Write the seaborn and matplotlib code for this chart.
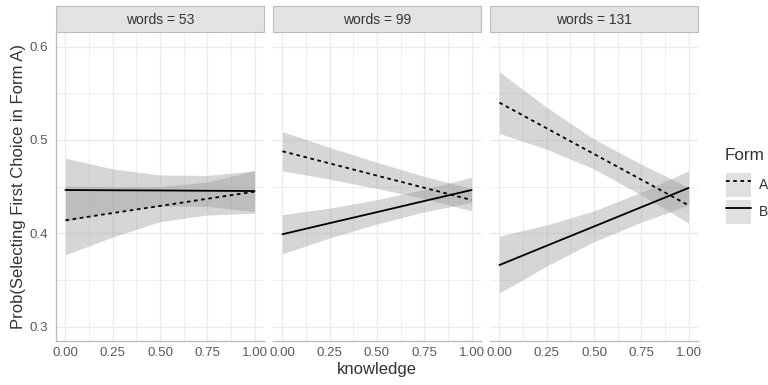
import numpy as np
import pandas as pd
import matplotlib
matplotlib.use("Agg")
import matplotlib.pyplot as plt
from matplotlib.patches import Patch, Rectangle
from matplotlib.lines import Line2D
from matplotlib.legend_handler import HandlerTuple
import seaborn as sns

# ---------------- data ----------------
panels = ["words = 53", "words = 99", "words = 131"]
forms = ["A", "B"]
knowledge = [0.0, 0.25, 0.5, 0.75, 1.0]

# words = 53
p53_A_fit = [0.414, 0.4217, 0.4293, 0.437, 0.4446]
p53_A_lo = [0.377, 0.396, 0.4125, 0.4196, 0.4214]
p53_A_hi = [0.4507, 0.450, 0.450, 0.455, 0.467]
p53_B_fit = [0.4464, 0.4461, 0.4459, 0.4456, 0.4453]
p53_B_lo = [0.4125, 0.423, 0.429, 0.429, 0.4232]
p53_B_hi = [0.4804, 0.469, 0.4625, 0.462, 0.467]

# words = 99
p99_A_fit = [0.4879, 0.4749, 0.4618, 0.4488, 0.4357]
p99_A_lo = [0.467, 0.458, 0.448, 0.437, 0.424]
p99_A_hi = [0.509, 0.492, 0.476, 0.461, 0.448]
p99_B_fit = [0.399, 0.4109, 0.4227, 0.4346, 0.4464]
p99_B_lo = [0.378, 0.395, 0.410, 0.423, 0.433]
p99_B_hi = [0.420, 0.427, 0.436, 0.447, 0.460]

# words = 131
p131_A_fit = [0.540, 0.5125, 0.485, 0.4575, 0.430]
p131_A_lo = [0.507, 0.490, 0.469, 0.441, 0.411]
p131_A_hi = [0.573, 0.535, 0.501, 0.474, 0.449]
p131_B_fit = [0.366, 0.3867, 0.4073, 0.428, 0.4486]
p131_B_lo = [0.336, 0.365, 0.391, 0.412, 0.430]
p131_B_hi = [0.397, 0.409, 0.424, 0.444, 0.467]

x_ticks = [0.0, 0.25, 0.5, 0.75, 1.0]
x_ticklabels = ["0.00", "0.25", "0.50", "0.75", "1.00"]
y_ticks = [0.3, 0.4, 0.5, 0.6]
y_ticklabels = ["0.3", "0.4", "0.5", "0.6"]

series = {
    ("words = 53", "A"): (p53_A_fit, p53_A_lo, p53_A_hi),
    ("words = 53", "B"): (p53_B_fit, p53_B_lo, p53_B_hi),
    ("words = 99", "A"): (p99_A_fit, p99_A_lo, p99_A_hi),
    ("words = 99", "B"): (p99_B_fit, p99_B_lo, p99_B_hi),
    ("words = 131", "A"): (p131_A_fit, p131_A_lo, p131_A_hi),
    ("words = 131", "B"): (p131_B_fit, p131_B_lo, p131_B_hi),
}
rows = []
for (pan, f), (fit, lo, hi) in series.items():
    for k, v, l, h in zip(knowledge, fit, lo, hi):
        rows.append(dict(panel=pan, Form=f, knowledge=k, prob=v, lower=l, upper=h))
df = pd.DataFrame(rows)

# ---------------- styling ----------------
sns.set_theme(style="white")
plt.rcParams["font.family"] = ["Liberation Sans", "DejaVu Sans"]

W, H = 768, 385
fig = plt.figure(figsize=(W / 100, H / 100), dpi=100)

grid_col = "#EBEBEB"
band_col = "#999999"
axis_col = "#BDBDBD"
tick_col = "#5A5A5A"
dash = (2.0, 2.0)
lw = 1.3

lefts = [56, 273, 490]
pw = 208
top_px, bot_px = 32, 341
strip_top = 6

for i, pan in enumerate(panels):
    l = lefts[i]
    ax = fig.add_axes([l / W, 1 - bot_px / H, pw / W, (bot_px - top_px) / H])
    sub = df[df["panel"] == pan]
    for f in forms:
        s = sub[sub["Form"] == f]
        ax.fill_between(s["knowledge"], s["lower"], s["upper"],
                        color=band_col, alpha=0.4, linewidth=0, zorder=2)
    sns.lineplot(data=sub, x="knowledge", y="prob", style="Form",
                 style_order=forms, dashes={"A": dash, "B": ""},
                 color="black", linewidth=lw, legend=False,
                 estimator=None, ax=ax, zorder=3)
    ax.set_xlim(-0.05, 1.05)
    ax.set_ylim(0.2846, 0.6157)
    ax.set_xticks(x_ticks)
    ax.set_xticklabels(x_ticklabels)
    ax.set_xticks([0.125, 0.375, 0.625, 0.875], minor=True)
    ax.set_yticks(y_ticks)
    ax.set_yticks([0.35, 0.45, 0.55], minor=True)
    ax.grid(True, which="major", color=grid_col, linewidth=1.0, zorder=0)
    ax.grid(True, which="minor", color=grid_col, linewidth=0.6, zorder=0)
    ax.set_axisbelow(True)
    ax.tick_params(axis="both", which="both", length=0, labelsize=9.6,
                   labelcolor=tick_col)
    ax.tick_params(axis="x", pad=4.5)
    ax.tick_params(axis="y", pad=5.5)
    for sp in ["top", "right"]:
        ax.spines[sp].set_visible(False)
    ax.spines["bottom"].set_color(axis_col)
    ax.spines["bottom"].set_linewidth(1.0)
    if i == 0:
        ax.spines["left"].set_color(axis_col)
        ax.spines["left"].set_linewidth(1.0)
        ax.set_yticklabels(y_ticklabels)
        ax.set_ylabel("Prob(Selecting First Choice in Form A)", fontsize=12,
                      color="#333333", labelpad=3)
    else:
        ax.spines["left"].set_visible(False)
        ax.set_yticklabels([])
        ax.set_ylabel("")
    if i == 1:
        ax.set_xlabel("knowledge", fontsize=12, color="#333333", labelpad=2)
    else:
        ax.set_xlabel("")
    # strip
    sax = fig.add_axes([l / W, 1 - top_px / H, pw / W, (top_px - strip_top) / H])
    sax.set_xlim(0, 1)
    sax.set_ylim(0, 1)
    sax.axis("off")
    sax.add_patch(Rectangle((0, 0), 1, 1, transform=sax.transAxes,
                            facecolor="#E3E3E3", edgecolor="#BBBBBB",
                            linewidth=0.8, clip_on=False))
    sax.text(0.5, 0.46, pan, ha="center", va="center", fontsize=10,
             color="#333333")

# legend
fs = 10.0
fpx = fs * 100 / 72
box = 24 / fpx
hh = (box - 0.245) / 0.65
handles = [
    (Patch(facecolor="#E0E0E0", edgecolor="none"),
     Line2D([], [], color="black", lw=lw, linestyle=(0, dash))),
    (Patch(facecolor="#E0E0E0", edgecolor="none"),
     Line2D([], [], color="black", lw=lw)),
]
fig.text(725 / W, 1 - 156 / H, "Form", ha="left", va="center",
         fontsize=12.3, color="#333333")
leg = fig.legend(handles=handles, labels=forms,
                 loc="upper left", bbox_to_anchor=(726 / W, 1 - 173 / H),
                 frameon=False, fontsize=fs,
                 handlelength=25 / fpx, handleheight=hh,
                 labelspacing=3 / fpx, handletextpad=8 / fpx,
                 borderpad=0, borderaxespad=0,
                 handler_map={tuple: HandlerTuple(ndivide=1, pad=0)})
for t in leg.get_texts():
    t.set_color("#333333")

fig.savefig("out.png", dpi=100)
